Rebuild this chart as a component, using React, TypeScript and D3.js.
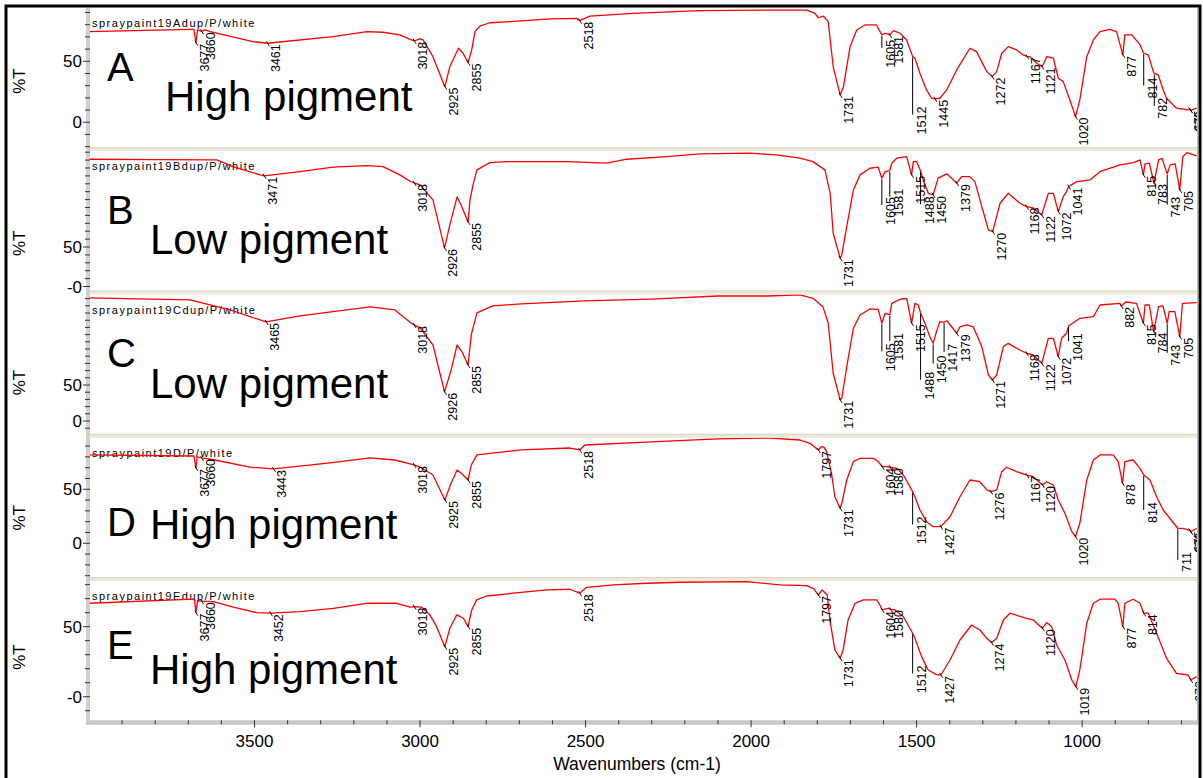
import * as d3 from 'd3'

type Pt = [number, number]

// ---- data: wavenumber (cm-1) vs %T ----
const specA: Pt[] = [
  [4000, 74.3], [3695, 76.2], [3683, 76.1], [3677, 65.2], [3672, 75.7], [3660, 74.6], [3650, 75.7], [3634, 74.3],
  [3505, 66.1], [3461, 64.8], [3263, 70.2], [3160, 74.3], [3112, 73.8], [3061, 71.6], [3030, 68], [3018, 66.8],
  [3000, 68.3], [2991, 67.5], [2961, 53.8], [2925, 29.2], [2910, 45.6], [2884, 60.7], [2870, 56.6], [2855, 48.9],
  [2844, 59.3], [2834, 74.3], [2819, 78.9], [2789, 81.6], [2728, 82.5], [2607, 84.7], [2527, 85.2], [2518, 83.3],
  [2487, 87.1], [2357, 89.3], [2154, 91.5], [1953, 92], [1832, 92], [1807, 89.3], [1797, 85.7], [1782, 87.1],
  [1767, 82.5], [1752, 45.6], [1731, 22.4], [1721, 29.2], [1701, 62], [1681, 75.7], [1656, 79.8], [1621, 79.8],
  [1605, 71.6], [1595, 73], [1581, 71.6], [1570, 75.1], [1550, 73], [1530, 67.5], [1512, 53.8], [1505, 52.5],
  [1490, 40.2], [1470, 26.5], [1455, 19.7], [1445, 19.2], [1430, 19.7], [1409, 26.5], [1379, 42.9], [1339, 60.7],
  [1319, 57.9], [1288, 41.5], [1272, 37.4], [1258, 41.5], [1243, 56.6], [1223, 62], [1198, 59.3], [1178, 55.2],
  [1167, 54], [1158, 53.8], [1137, 48.4], [1121, 45.6], [1107, 53.8], [1087, 52.5], [1072, 36.1], [1057, 33.3],
  [1037, 18.3], [1020, 4.6], [1007, 18.3], [986, 53.8], [966, 67.5], [946, 74.3], [916, 76.2], [896, 74.3],
  [877, 55.2], [871, 71.6], [850, 71.6], [825, 63.4], [814, 56.6], [800, 55.2], [785, 41.5], [782, 40],
  [770, 38.8], [755, 26.5], [745, 19.7], [715, 11.5], [678, 10.1], [675, 10.5], [672, 9.8], [654, 11.5],
]

const specB: Pt[] = [
  [4000, 161.1], [3800, 160.5], [3614, 160.2], [3565, 151.8], [3483, 141.3], [3471, 140], [3363, 145.4], [3263, 151],
  [3161, 153], [3112, 151.8], [3061, 141.3], [3030, 133.2], [3018, 131.1], [3000, 128.6], [2961, 109.6], [2926, 48.8],
  [2910, 78], [2888, 113.4], [2876, 103.2], [2855, 81.7], [2849, 109.6], [2840, 128.6], [2828, 147.6], [2789, 156.8],
  [2738, 158.1], [2557, 158.1], [2436, 156.1], [2376, 161.1], [2255, 164.4], [2154, 167.8], [2003, 168.7], [1923, 166.5],
  [1852, 162.4], [1813, 158.1], [1777, 147.6], [1761, 118], [1752, 67.4], [1731, 35.8], [1726, 39.9], [1711, 75.8],
  [1691, 122.2], [1671, 141.3], [1641, 149.7], [1616, 151], [1605, 137.1], [1595, 145.4], [1581, 146.7], [1575, 156.1],
  [1560, 162.4], [1530, 164.4], [1515, 141.3], [1510, 158.1], [1500, 158.1], [1488, 146.2], [1480, 135], [1465, 118],
  [1450, 115.9], [1435, 137.1], [1409, 142.6], [1389, 135], [1379, 130.8], [1364, 139.1], [1339, 139.1], [1324, 132.8],
  [1303, 101.1], [1283, 71.5], [1270, 69.4], [1248, 105.4], [1223, 118], [1188, 105.4], [1168, 101.1], [1148, 99.5],
  [1122, 90.6], [1102, 118], [1087, 118], [1072, 94.8], [1057, 113.7], [1047, 120], [1041, 126.5], [1016, 132.8],
  [976, 135], [946, 145.4], [886, 153.9], [845, 156.8], [825, 160.2], [815, 141.3], [810, 155.2], [797, 156.1],
  [783, 130.8], [769, 160.2], [759, 162.4], [743, 142.6], [734, 153.9], [719, 155.2], [705, 122.2], [696, 164.4],
  [684, 169.5], [654, 165.4],
]

const specC: Pt[] = [
  [4000, 170.9], [3695, 168.1], [3574, 154.3], [3465, 137.6], [3363, 145.9], [3151, 158.4], [3076, 154.3], [3030, 137.1],
  [3018, 133.4], [3000, 129.3], [2961, 105.6], [2926, 40.4], [2906, 70.9], [2888, 105.6], [2873, 95.9], [2855, 77.8],
  [2845, 120.4], [2828, 150.1], [2780, 159.8], [2695, 162.6], [2502, 166.8], [2302, 169.4], [2100, 173.6], [1952, 173.6],
  [1852, 175.1], [1813, 170.4], [1783, 158.8], [1767, 135.8], [1752, 66.3], [1731, 29.3], [1726, 31.6], [1711, 75.4],
  [1691, 128.8], [1671, 147.3], [1641, 155.6], [1616, 155.1], [1605, 135.8], [1595, 149.6], [1581, 147.3], [1575, 163.4],
  [1550, 169.1], [1530, 170.4], [1515, 135.8], [1505, 163.4], [1495, 161.1], [1488, 150.4], [1475, 135.8], [1460, 117.1],
  [1450, 107.9], [1440, 124.1], [1430, 137.9], [1417, 137.1], [1409, 139.3], [1394, 130.9], [1379, 121.8], [1369, 130.9],
  [1349, 133.4], [1329, 130.9], [1303, 103.3], [1283, 63.9], [1271, 56.9], [1258, 63.9], [1238, 103.3], [1223, 107.9],
  [1188, 98.6], [1168, 94.1], [1148, 91.8], [1122, 80.1], [1102, 114.9], [1087, 114.9], [1072, 89.3], [1062, 114.9],
  [1047, 121.8], [1041, 131.9], [1007, 142.6], [966, 144.9], [946, 161.1], [886, 163.4], [882, 159.8], [868, 165.3],
  [836, 163.4], [815, 135.8], [810, 161.1], [797, 161.1], [784, 124.1], [769, 158.8], [756, 159.8], [743, 135.8],
  [737, 151.8], [720, 151.8], [705, 117.1], [697, 163.4], [654, 164.3],
]

const specD: Pt[] = [
  [4000, 81.8], [3695, 80.8], [3683, 80.8], [3677, 69.7], [3673, 79.9], [3660, 79], [3620, 77.1], [3514, 70.6],
  [3443, 68.8], [3272, 74.4], [3151, 79], [3076, 77.1], [3030, 73.5], [3018, 72.5], [3000, 70.6], [2961, 63.2],
  [2925, 40.1], [2906, 55.8], [2888, 67.9], [2873, 64.2], [2855, 58.6], [2845, 72.5], [2828, 81.8], [2695, 86.4],
  [2547, 88.2], [2518, 86.4], [2502, 91], [2302, 93.8], [2100, 96.6], [1952, 97.5], [1852, 95.6], [1822, 92.6],
  [1797, 86.4], [1788, 89.4], [1780, 89], [1772, 84.8], [1757, 64.8], [1747, 43.1], [1731, 32.4], [1726, 37],
  [1711, 58.6], [1691, 75.6], [1671, 78.7], [1631, 78.7], [1616, 75.6], [1604, 70.9], [1590, 70.9], [1580, 70.4],
  [1560, 69.4], [1540, 63.2], [1512, 47.8], [1505, 43.1], [1490, 30.8], [1470, 20], [1450, 15.4], [1427, 15.4],
  [1399, 24.6], [1369, 43.1], [1339, 58.6], [1309, 57], [1288, 49.4], [1276, 47.8], [1258, 49.4], [1243, 66.3],
  [1228, 70.4], [1198, 66.3], [1167, 63.2], [1148, 61.7], [1120, 54], [1107, 57], [1087, 54], [1072, 40.1],
  [1052, 27.8], [1031, 10.7], [1020, 6.1], [1007, 18.5], [986, 58.6], [966, 77.1], [946, 81.8], [906, 81.8],
  [891, 75.6], [878, 55.6], [871, 75.6], [846, 77.1], [825, 69.4], [814, 63.2], [795, 58.6], [775, 43.1],
  [755, 30.8], [711, 13.9], [695, 13.9], [675, 12], [672, 10.7], [654, 13.9],
]

const specE: Pt[] = [
  [4000, 66.7], [3685, 69.6], [3681, 69], [3677, 60], [3672, 68.6], [3660, 68.2], [3624, 67.9], [3564, 63.9],
  [3494, 60], [3452, 59.6], [3363, 60.7], [3262, 63.1], [3161, 66.7], [3071, 66.7], [3030, 63.9], [3018, 64.3],
  [2995, 63.9], [2970, 58.4], [2950, 50], [2925, 35.7], [2910, 48.9], [2889, 58.4], [2869, 56], [2855, 50],
  [2844, 61.9], [2829, 69.1], [2799, 71.9], [2718, 73.9], [2617, 76.2], [2547, 76.7], [2518, 73.9], [2497, 78.1],
  [2416, 79.8], [2315, 81], [2215, 81.7], [2013, 82.1], [1913, 79.8], [1832, 79.3], [1810, 77], [1797, 72.6],
  [1785, 76.2], [1770, 72.6], [1762, 54.8], [1747, 33.4], [1731, 27.4], [1722, 33.4], [1707, 54.8], [1686, 66.7],
  [1661, 69.1], [1621, 69.1], [1611, 65.5], [1604, 61.9], [1586, 63.1], [1580, 62.5], [1565, 61.9], [1540, 57.1],
  [1512, 45.3], [1505, 41.7], [1485, 28.6], [1465, 19.1], [1440, 15.8], [1427, 15.5], [1399, 26.2], [1369, 40.5],
  [1334, 51.2], [1309, 47.6], [1288, 41.7], [1274, 38.6], [1258, 41.7], [1238, 54.8], [1218, 59.6], [1168, 56],
  [1148, 54.8], [1120, 48.9], [1107, 52.9], [1092, 50], [1077, 36.9], [1052, 26.2], [1031, 11.9], [1019, 7.1],
  [1007, 19.1], [986, 52.4], [966, 66.7], [946, 69.6], [901, 69.6], [891, 66.7], [877, 50], [871, 66.7],
  [846, 69.6], [825, 66.7], [814, 59.6], [800, 59.6], [775, 45.3], [745, 27.4], [715, 16.7], [680, 15.5],
  [672, 11.9], [654, 14.3],
]

// peak labels: [wavenumber, leader drop in %T below the curve]
const peaksA: Pt[] = [
  [3677, 0], [3660, 0], [3461, 0], [3018, 0], [2925, 0], [2855, 0], [2518, 0], [1731, 0], [1605, 4], [1581, 0],
  [1512, 41], [1445, 0], [1272, 0], [1167, 0], [1121, 0], [1020, 0], [877, 0], [814, 20], [782, 20], [675, 0], [672, 0],
]
const peaksB: Pt[] = [
  [3471, 0], [3018, 0], [2926, 0], [2855, 0], [1731, 0], [1605, 24], [1581, 23], [1515, 0], [1488, 32], [1450, 0],
  [1379, 0], [1270, 0], [1168, 0], [1122, 0], [1072, 0], [1041, 0], [815, 0], [783, 0], [743, 29], [705, 0],
]
const peaksC: Pt[] = [
  [3465, 0], [3018, 0], [2926, 0], [2855, 0], [1731, 0], [1605, 28], [1581, 25], [1515, 0], [1488, 82], [1450, 17],
  [1417, 30], [1379, 0], [1271, 0], [1168, 0], [1122, 0], [1072, 0], [1041, 10], [882, 0], [815, 0], [784, 0],
  [743, 30], [705, 0],
]
const peaksD: Pt[] = [
  [3677, 0], [3660, 0], [3443, 0], [3018, 0], [2925, 0], [2855, 0], [2518, 0], [1797, 0], [1731, 0], [1604, 0],
  [1580, 0], [1512, 23], [1427, 0], [1276, 0], [1167, 0], [1120, 0], [1020, 0], [878, 0], [814, 25], [711, 22],
  [675, 0], [672, 0],
]
const peaksE: Pt[] = [
  [3677, 0], [3660, 0], [3452, 0], [3018, 0], [2925, 0], [2855, 0], [2518, 0], [1797, 0], [1731, 0], [1604, 0],
  [1580, 0], [1512, 23], [1427, 0], [1274, 0], [1120, 0], [1019, 0], [877, 0], [814, 0], [672, 0],
]

const sampleNames = [
  'spraypaint19Adup/P/white', 'spraypaint19Bdup/P/white', 'spraypaint19Cdup/P/white',
  'spraypaint19D/P/white', 'spraypaint19Edup/P/white',
]
const panelLetters = ['A', 'B', 'C', 'D', 'E']
const panelNotes = ['High pigment', 'Low pigment', 'Low pigment', 'High pigment', 'High pigment']
const zeroTickLabels = ['0', '-0', '0', '0', '-0']
const yDomains: Pt[] = [[-20.5, 93.7], [-5.06, 171.2], [-17.7, 175.7], [-31.2, 97.7], [-16.8, 82.6]]
const xTicks = [3500, 3000, 2500, 2000, 1500, 1000]

const spectra = [specA, specB, specC, specD, specE]
const peaks = [peaksA, peaksB, peaksC, peaksD, peaksE]

// ---- layout ----
const W = 1203
const H = 778
const LEFT = 89
const RIGHT = 1198
const TOP = 8
const STEP = 143.25
const BAND = 4
const FONT = "'Liberation Sans', Arial, Helvetica, sans-serif"
// per panel text placement (offsets from panel top)
const letterBase = [73, 73, 72.5, 98, 78]
const noteBase = [103, 103, 103.5, 101, 103]
const noteX = [165, 150, 150, 150, 150]
const unitLabelY = [73, 92, 88, 80, 76]

function valueAt(spec: Pt[], wn: number) {
  for (let i = 0; i < spec.length - 1; i++) {
    const [w0, t0] = spec[i]
    const [w1, t1] = spec[i + 1]
    if (wn <= w0 && wn >= w1) return t0 + ((wn - w0) / (w1 - w0)) * (t1 - t0)
  }
  return spec[spec.length - 1][1]
}

export default function App() {
  const x = d3.scaleLinear().domain([4000, 650]).range([LEFT, RIGHT])
  const labelSize = 12.5
  const capH = labelSize * 0.716

  const panels = spectra.map((spec, i) => {
    const top = TOP + i * STEP
    const bottom = top + STEP - BAND
    const y = d3.scaleLinear().domain(yDomains[i]).range([bottom, top])
    const line = d3.line<Pt>().x(d => x(d[0])).y(d => y(d[1]))
    const minor = d3.range(Math.ceil(yDomains[i][0] / 10) * 10, yDomains[i][1], 10)
    return { spec, top, bottom, y, path: line(spec) || '', minor, peaks: peaks[i] }
  })

  const xMinor = d3.range(3900, 650, -100)

  return (
    <svg width={W} height={H} style={{ position: 'absolute', left: 0, top: 0, background: '#fff' }} fontFamily={FONT}>
      <rect x={0} y={0} width={W} height={H} fill="#fff" />
      <defs>
        {panels.map((p, i) => (
          <clipPath id={`clip${i}`} key={i}>
            <rect x={LEFT} y={p.top} width={RIGHT - LEFT} height={p.bottom - p.top} />
          </clipPath>
        ))}
      </defs>

      {panels.map((p, i) => (
        <g key={i}>
          {/* separator band under each panel */}
          {i < 4 && <rect x={LEFT} y={p.bottom} width={RIGHT - LEFT} height={BAND} fill="#ece9d9" />}
          {i < 4 && <line x1={LEFT} x2={RIGHT} y1={p.bottom + 0.5} y2={p.bottom + 0.5} stroke="#d9d5c4" />}

          <text x={92} y={p.top + 19} fontSize={11} letterSpacing={1.5} fill="#000">{sampleNames[i]}</text>
          <text x={107} y={p.top + letterBase[i]} fontSize={40} fill="#000">{panelLetters[i]}</text>
          <text x={noteX[i]} y={p.top + noteBase[i]} fontSize={42} fill="#000">{panelNotes[i]}</text>

          <g clipPath={`url(#clip${i})`}>
            <path d={p.path} fill="none" stroke="#ff0000" strokeWidth={1.3} strokeLinejoin="round" />
            {p.peaks.map(([wn, drop]) => {
              const px = x(wn)
              const cy = p.y(valueAt(p.spec, wn))
              const ty = drop > 0 ? p.y(valueAt(p.spec, wn) - drop) : cy + 1
              return (
                <g key={wn}>
                  {drop > 0
                    ? <line x1={px} x2={px} y1={cy + 1} y2={ty + 8} stroke="#000" strokeWidth={1} />
                    : <line x1={px - 1} x2={px + 2} y1={cy - 2} y2={cy + 3} stroke="#000" strokeWidth={0.9} />}
                  <text
                    transform={`translate(${px + 4 + capH},${ty}) rotate(-90)`}
                    textAnchor="end"
                    fontSize={labelSize}
                    fill="#000"
                  >{wn}</text>
                </g>
              )
            })}
          </g>

          {/* y axis labels */}
          <text x={82} y={p.y(50)} dy="0.36em" textAnchor="end" fontSize={17} fill="#000">50</text>
          <text x={82} y={p.y(0)} dy="0.36em" textAnchor="end" fontSize={17} fill="#000">{zeroTickLabels[i]}</text>
          <text transform={`translate(25,${p.top + unitLabelY[i]}) rotate(-90)`} textAnchor="middle" fontSize={17} fill="#000">%T</text>
        </g>
      ))}

      {/* left axis band with ticks */}
      <rect x={86} y={TOP} width={4} height={panels[4].bottom + 4 - TOP} fill="#c8c8c8" opacity={0.85} />
      {panels.map((p, i) => p.minor.map(v => (
        <line key={`${i}-${v}`} x1={v === 0 || v === 50 ? 83 : 85} x2={90} y1={p.y(v)} y2={p.y(v)} stroke="#333" strokeWidth={1} />
      )))}

      {/* bottom axis band and ticks */}
      <rect x={86} y={panels[4].bottom} width={RIGHT - 86} height={4.5} fill="#c8c8c8" />
      {xMinor.map(v => (
        <line key={v} x1={x(v)} x2={x(v)} y1={panels[4].bottom} y2={v % 500 === 0 ? panels[4].bottom + 7 : panels[4].bottom + 4}
          stroke="#333" strokeWidth={1} />
      ))}
      {xTicks.map(v => (
        <text key={v} x={x(v)} y={747} textAnchor="middle" fontSize={17} fill="#000">{v}</text>
      ))}
      <text x={637} y={770} textAnchor="middle" fontSize={17.5} fill="#000">Wavenumbers (cm-1)</text>

      {/* right edge and outer frame */}
      <line x1={RIGHT - 0.5} x2={RIGHT - 0.5} y1={TOP} y2={panels[4].bottom + 4} stroke="#bbb" />
      <rect x={6} y={6} width={1194} height={H + 20} fill="none" stroke="#000" strokeWidth={3} />
    </svg>
  )
}
